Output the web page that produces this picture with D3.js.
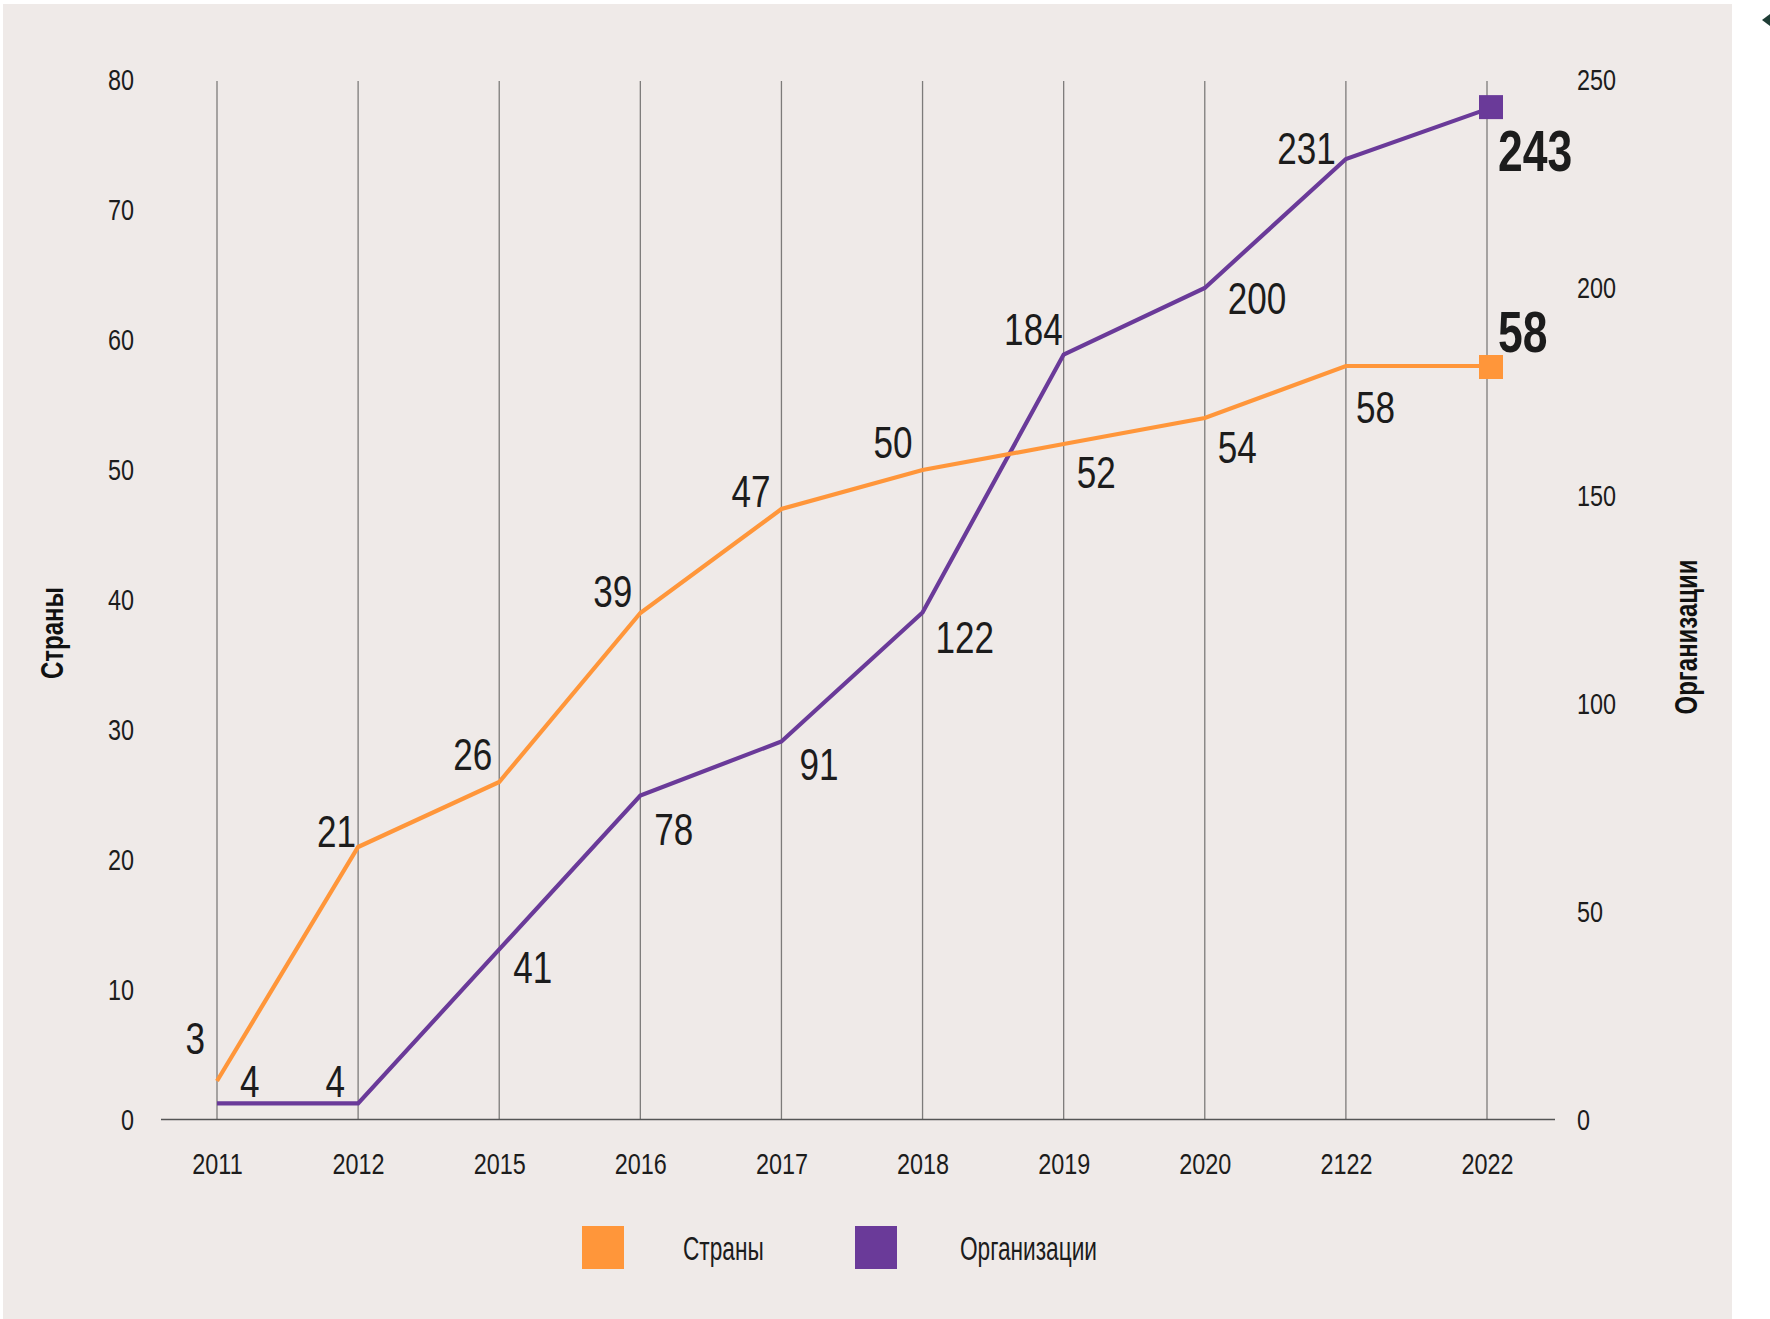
<!DOCTYPE html>
<html><head><meta charset="utf-8">
<script src="https://cdn.jsdelivr.net/npm/d3@7"></script>
<style>html,body{margin:0;padding:0;background:#fff;}svg{display:block;}</style>
</head><body>
<svg id="chart" width="1770" height="1319"></svg>
<script>
// ---------- data ----------
const years = ["2011","2012","2015","2016","2017","2018","2019","2020","2122","2022"];
const countries = [3,21,26,39,47,50,52,54,58,58];
const organizations = [4,4,41,78,91,122,184,200,231,243];
const leftTicks = [0,10,20,30,40,50,60,70,80];
const rightTicks = [0,50,100,150,200,250];
const seriesNames = ["Страны","Организации"];
const leftTitle = "Страны";
const rightTitle = "Организации";
// label placement (anchor, dx, dy relative to point) — layout only
const countryLabelPos = [["end",-12,-27],["end",-2,0],["end",-7,-12],["end",-8,-6],["end",-11,-2],["end",-10,-12],["start",13,44],["start",13,45],["start",10,57],["start",11,-14]];
const orgLabelPos = [["start",23,-6],["end",-13,-6],["start",14,34],["start",14,49],["start",18,39],["start",13,41],["end",-1,-10],["start",23,26],["end",-10,5],["start",11,62]];

// ---------- font detection ----------
function hasFont(name){
  const c=document.createElement('canvas').getContext('2d');
  const s='abcdefgh0123456789';
  c.font='40px monospace'; const a=c.measureText(s).width;
  c.font='40px "'+name+'", monospace'; const b=c.measureText(s).width;
  return Math.abs(a-b)>0.5;
}
const narrow = hasFont("Liberation Sans Narrow");
const FONT = narrow ? '"Liberation Sans Narrow"' : '"Liberation Sans"';
const SX = narrow ? 0.93 : 0.78;

const ORANGE = "#FF963A", PURPLE = "#6A3A99", TEXT = "#1c1c1c";
const svg = d3.select("#chart");

// background panel
svg.append("rect").attr("x",3).attr("y",4).attr("width",1729).attr("height",1315).attr("fill","#efeae8");
// small arrow at top-right
svg.append("path").attr("d","M1762,20 L1770,14 L1770,26 Z").attr("fill","#1f3d36");

// scales
const x = d3.scalePoint().domain(years).range([217,1487]);
const yL = d3.scaleLinear().domain([0,80]).range([1120,80]);
const yR = d3.scaleLinear().domain([0,250]).range([1120,80]);

function txt(parent, px, py, str, size, anchor, weight, fill, sx){
  const g = parent.append("g").attr("transform",`translate(${px},${py}) scale(${sx||SX},1)`);
  g.append("text").attr("x",0).attr("y",0).attr("text-anchor",anchor||"start")
    .attr("font-family",FONT).attr("font-size",size).attr("font-weight",weight||"normal")
    .attr("fill",fill||TEXT).text(str);
  return g;
}

// gridlines
svg.append("g").selectAll("line").data(years).join("line")
  .attr("x1",d=>x(d)).attr("x2",d=>x(d)).attr("y1",81).attr("y2",1119)
  .attr("stroke","#7d7b7a").attr("stroke-width",1.3);

// baseline axis
svg.append("line").attr("x1",161).attr("x2",1555).attr("y1",1119.5).attr("y2",1119.5)
  .attr("stroke","#555").attr("stroke-width",1.5);

// left ticks via axis (right-aligned)
const gl = svg.append("g").attr("transform","translate(134,0)")
  .call(d3.axisLeft(yL).tickValues(leftTicks).tickSize(0));
gl.select(".domain").remove();
gl.selectAll(".tick text").remove();
gl.selectAll(".tick").each(function(d){
  txt(d3.select(this), 0, 9, String(d), 30, "end");
});
// right ticks via axis
const gr = svg.append("g").attr("transform","translate(1577,0)")
  .call(d3.axisRight(yR).tickValues(rightTicks).tickSize(0));
gr.select(".domain").remove();
gr.selectAll(".tick text").remove();
gr.selectAll(".tick").each(function(d){
  txt(d3.select(this), 0, 9, String(d), 30, "start");
});
// bottom axis labels
const gb = svg.append("g").attr("transform","translate(0,1119)")
  .call(d3.axisBottom(x).tickSize(0));
gb.select(".domain").remove();
gb.selectAll(".tick text").remove();
gb.selectAll(".tick").each(function(d){
  txt(d3.select(this), 0, 55, d, 30, "middle");
});

// axis titles
function rotTitle(cx, cy, str){
  svg.append("g").attr("transform",`translate(${cx},${cy}) rotate(-90) scale(${SX*0.96},1)`)
    .append("text").attr("text-anchor","middle").attr("font-family",FONT)
    .attr("font-size",32).attr("font-weight","bold").attr("fill","#111").text(str);
}
rotTitle(63, 633, leftTitle);
rotTitle(1697, 637, rightTitle);

// lines
const lineL = d3.line().x((d,i)=>x(years[i])).y(d=>yL(d));
const lineR = d3.line().x((d,i)=>x(years[i])).y(d=>yR(d));
svg.append("path").datum(organizations).attr("d",lineR).attr("fill","none")
  .attr("stroke",PURPLE).attr("stroke-width",4.2).attr("stroke-linejoin","miter");
svg.append("path").datum(countries).attr("d",lineL).attr("fill","none")
  .attr("stroke",ORANGE).attr("stroke-width",4.2).attr("stroke-linejoin","miter");

// end markers
const last = years.length-1;
svg.append("rect").attr("x",x(years[last])-8).attr("y",yR(organizations[last])-14).attr("width",24).attr("height",24).attr("fill",PURPLE);
svg.append("rect").attr("x",x(years[last])-8).attr("y",yL(countries[last])-11).attr("width",24).attr("height",24).attr("fill",ORANGE);

// data labels
const lab = svg.append("g");
countries.forEach((v,i)=>{
  const p = countryLabelPos[i], isLast = i===last;
  txt(lab, x(years[i])+p[1], yL(v)+p[2], String(v), isLast?57:45, p[0], isLast?"bold":"normal");
});
organizations.forEach((v,i)=>{
  const p = orgLabelPos[i], isLast = i===last;
  txt(lab, x(years[i])+p[1], yR(v)+p[2], String(v), isLast?57:45, p[0], isLast?"bold":"normal");
});

// legend
const colors=[ORANGE,PURPLE];
const legX=[582,855], legTX=[683,960];
seriesNames.forEach((n,i)=>{
  svg.append("rect").attr("x",legX[i]).attr("y",1226).attr("width",42).attr("height",43).attr("fill",colors[i]);
  txt(svg, legTX[i], 1260, n, 33, "start", "normal", TEXT, SX*0.88);
});
</script>
</body></html>
